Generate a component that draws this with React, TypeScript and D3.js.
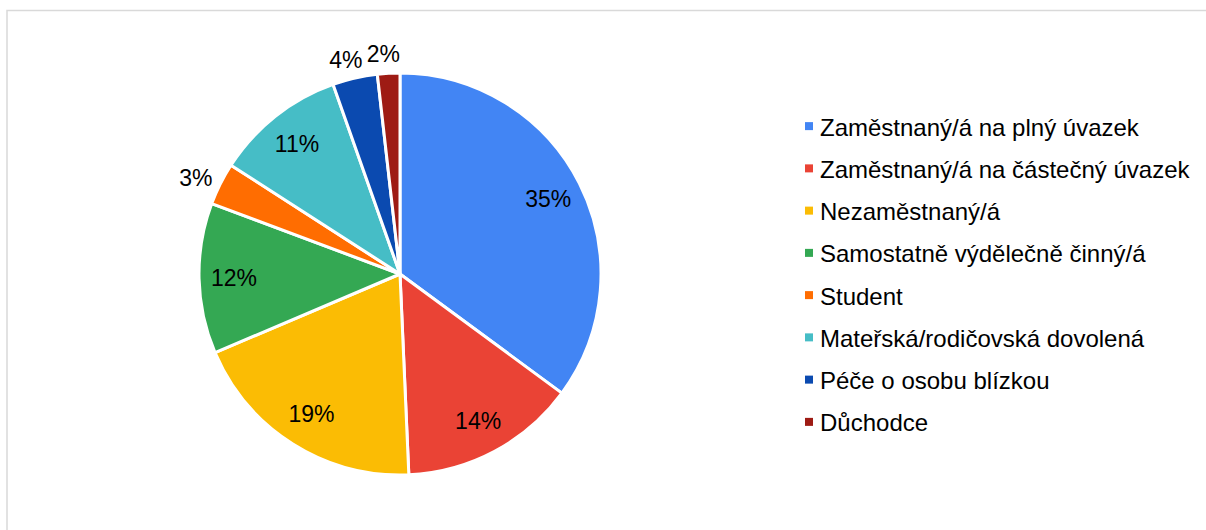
import { useEffect, useRef } from 'react';
import * as d3 from 'd3';

const categories = [
  'Zaměstnaný/á na plný úvazek',
  'Zaměstnaný/á na částečný úvazek',
  'Nezaměstnaný/á',
  'Samostatně výdělečně činný/á',
  'Student',
  'Mateřská/rodičovská dovolená',
  'Péče o osobu blízkou',
  'Důchodce',
];
const shares = [35.1, 14.2, 19.3, 12.1, 3.4, 10.5, 3.6, 1.8];
const colors = ['#4285f4', '#ea4335', '#fbbc04', '#34a853', '#ff6d01', '#46bdc6', '#0b4ab0', '#9e1b14'];

interface Slice {
  name: string;
  value: number;
  color: string;
}

export default function App() {
  const ref = useRef<SVGSVGElement | null>(null);

  useEffect(() => {
    if (!ref.current) return;
    const width = 1206;
    const height = 530;
    const cx = 400;
    const cy = 274;
    const radius = 201;
    const font = 'Liberation Sans, Arial, sans-serif';

    const data: Slice[] = categories.map((name, i) => ({ name, value: shares[i], color: colors[i] }));

    const svg = d3.select(ref.current);
    svg.selectAll('*').remove();
    svg.attr('width', width).attr('height', height);

    // fondo y marco gris
    svg.append('rect').attr('width', width).attr('height', height).attr('fill', '#fff');
    svg.append('rect')
      .attr('x', 7)
      .attr('y', 10.5)
      .attr('width', width + 10)
      .attr('height', height + 10)
      .attr('fill', 'none')
      .attr('stroke', '#d9d9d9')
      .attr('stroke-width', 1.5);

    const pie = d3.pie<Slice>().sort(null).value((d) => d.value);
    const arcs = pie(data);
    const arc = d3.arc<d3.PieArcDatum<Slice>>().innerRadius(0).outerRadius(radius);
    const inner = d3.arc<d3.PieArcDatum<Slice>>().innerRadius(166).outerRadius(166);
    const outer = d3.arc<d3.PieArcDatum<Slice>>().innerRadius(224).outerRadius(224);

    const g = svg.append('g').attr('transform', `translate(${cx},${cy})`);

    g.selectAll('path')
      .data(arcs)
      .enter()
      .append('path')
      .attr('d', arc)
      .attr('fill', (d) => d.data.color)
      .attr('stroke', '#fff')
      .attr('stroke-width', 3)
      .attr('stroke-linejoin', 'round');

    const total = d3.sum(shares);
    g.selectAll('.label')
      .data(arcs)
      .enter()
      .append('text')
      .attr('class', 'label')
      .attr('transform', (d) => {
        const small = d.data.value / total < 0.05;
        const [x, y] = (small ? outer : inner).centroid(d);
        // las etiquetas exteriores se desplazan hacia fuera del borde
        return small ? `translate(${x - 4},${y + 4})` : `translate(${x},${y})`;
      })
      .attr('text-anchor', 'middle')
      .attr('dy', '0.35em')
      .style('font-family', font)
      .style('font-size', '23px')
      .attr('fill', '#000')
      .text((d) => `${Math.round((d.data.value / total) * 100)}%`);

    // leyenda
    const legendY = d3.scaleBand<string>()
      .domain(categories)
      .range([106, 444]);

    const legend = svg.append('g');
    const items = legend.selectAll('g')
      .data(data)
      .enter()
      .append('g')
      .attr('transform', (d) => `translate(805,${legendY(d.name)! + legendY.bandwidth() / 2})`);

    items.append('rect')
      .attr('x', 0)
      .attr('y', -5)
      .attr('width', 8)
      .attr('height', 8)
      .attr('fill', (d) => d.color);

    items.append('text')
      .attr('x', 15)
      .attr('dy', '0.35em')
      .style('font-family', font)
      .style('font-size', '24px')
      .attr('fill', '#000')
      .text((d) => d.name);
  }, []);

  return <svg ref={ref} style={{ position: 'absolute', left: 0, top: 0 }}></svg>;
}
